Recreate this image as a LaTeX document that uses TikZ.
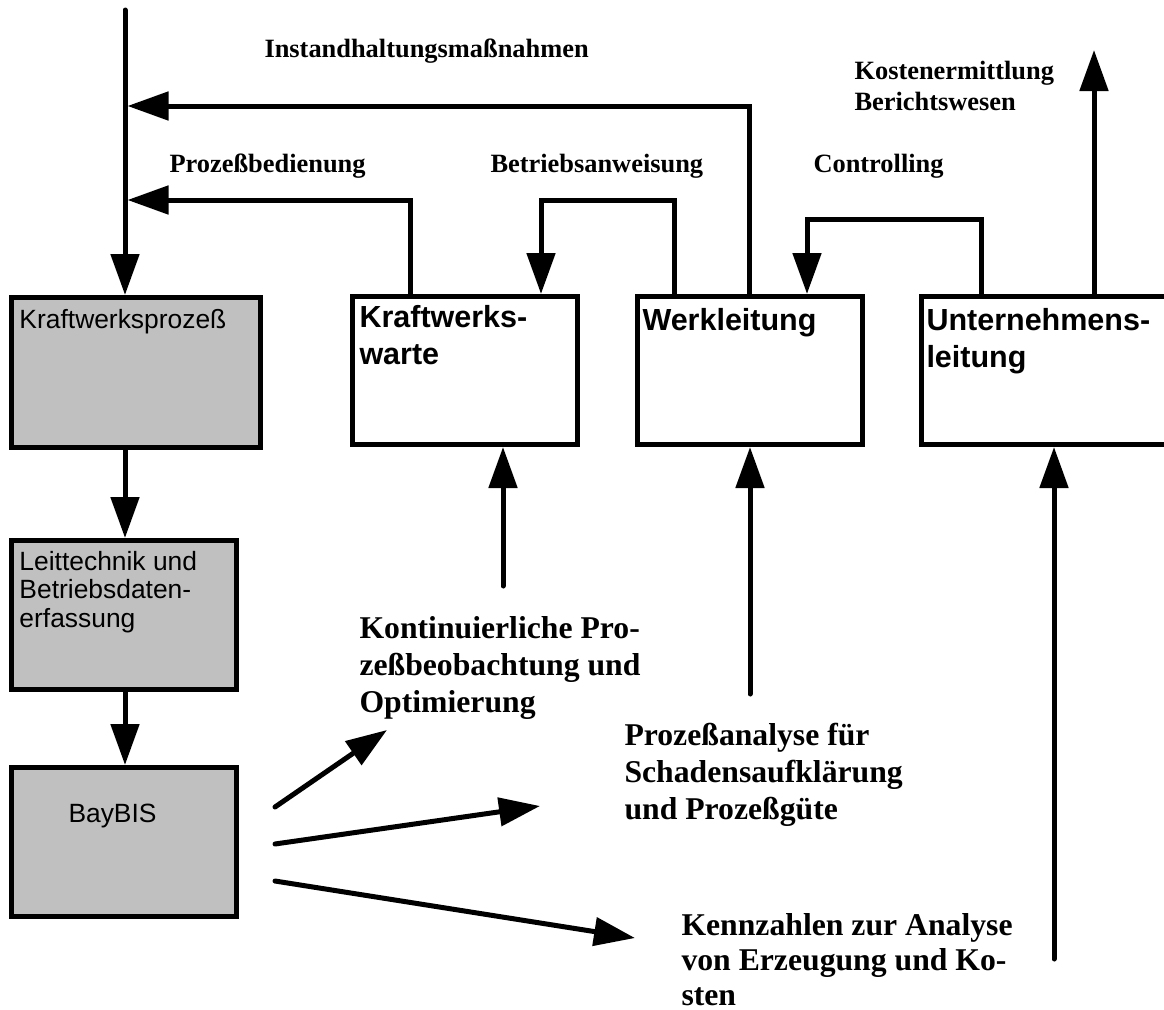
\documentclass[tikz,border=0pt]{standalone}
\usepackage{fontspec}
\setmainfont{Liberation Serif}
\setsansfont{Liberation Sans}
\usetikzlibrary{positioning, arrows.meta}
\definecolor{BoxGrey}{HTML}{C0C0C0}

\begin{document}
\begin{tikzpicture}[
    x=1pt, y=-1pt,
    line width=5pt,
    plainbox/.style={rectangle, draw=black, line width=5pt, minimum width=225pt, minimum height=148pt, inner sep=0pt},
    greybox/.style={plainbox, fill=BoxGrey, minimum height=149pt},
    greytext/.style={inner sep=0pt, align=left, font=\sffamily\fontsize{26.4}{28.5}\selectfont},
    boxtitle/.style={inner sep=0pt, align=left, font=\sffamily\bfseries\fontsize{30.5}{37}\selectfont},
    flowlabel/.style={inner sep=0pt, anchor=base west, font=\bfseries\fontsize{26.4}{31}\selectfont},
    resultlabel/.style={inner sep=0pt, anchor=north west, align=left, font=\bfseries\fontsize{31.7}{37}\selectfont},
    arrow/.style={-{Triangle[length=41pt, width=28pt]}, line width=5pt, line cap=round}
]
    \useasboundingbox (0,0) rectangle (1164,1009);

    % left column: process chain
    \node[greybox, minimum width=249pt, minimum height=150pt] (proc) at (136,372.5) {};
    \node[greybox, below=88pt of proc.south west, anchor=north west] (leit) {};
    \node[greybox, below=73pt of leit.south west, anchor=north west] (bay) {};
    \node[greytext, below right=12pt and 8pt of proc.north west] (proctext) {Kraftwerksprozeß};
    \node[greytext, below right=10.7pt and 8pt of leit.north west] (leittext) {Leittechnik und\\Betriebsdaten-\\erfassung};
    \node[greytext, below right=36.7pt and 57pt of bay.north west] (baytext) {BayBIS};

    % top row: users
    \node[plainbox] (warte) at (465,370.5) {};
    \node[plainbox, right=55pt of warte] (werk) {};
    \node[plainbox, right=54pt of werk, minimum width=260pt, anchor=west] (unter) {};
    \node[boxtitle, below right=8.7pt and 7pt of warte.north west] (wartetext) {Kraftwerks-\\warte};
    \node[boxtitle, below right=11.7pt and 5pt of werk.north west] (werktext) {Werkleitung};
    \node[boxtitle, below right=11.7pt and 5pt of unter.north west] (untertext) {Unternehmens-\\leitung};

    % feedback lines
    \coordinate (top) at (125,10);
    \coordinate (ihbend) at (749,106);
    \coordinate (ihend) at (127.5,106);
    \coordinate (pbbend) at (410,200);
    \coordinate (pbend) at (127.5,200);
    \coordinate (bastart) at (674,200);
    \coordinate (babend) at (541,200);
    \coordinate (costart) at (981,219);
    \coordinate (cobend) at (807,219);
    \coordinate (kotip) at (1094,50);

    \draw[arrow] (top) -- (top |- proc.north);
    \draw[arrow] (ihbend |- werk.north) -- (ihbend) -- (ihend);
    \draw[arrow] (pbbend |- warte.north) -- (pbbend) -- (pbend);
    \draw[arrow] (bastart |- werk.north) -- (bastart) -- (babend) -- (babend |- warte.north);
    \draw[arrow] (costart |- unter.north) -- (costart) -- (cobend) -- (cobend |- werk.north);
    \draw[arrow] (kotip |- unter.north) -- (kotip);
    \draw[arrow] (proc.south -| top) -- (leit.north -| top);
    \draw[arrow] (leit.south -| top) -- (bay.north -| top);

    \node[flowlabel] (ihlabel) at (262,57) {Instandhaltungsmaßnahmen};
    \node[flowlabel] (pblabel) at (167,172) {Prozeßbedienung};
    \node[flowlabel] (balabel) at (488,172) {Betriebsanweisung};
    \node[flowlabel] (colabel) at (811,172) {Controlling};
    \node[flowlabel, anchor=north west, align=left] (kolabel) at (852,58.2) {Kostenermittlung\\Berichtswesen};

    % BayBIS results
    \coordinate (optfoot) at (503,586);
    \coordinate (anafoot) at (750,694);
    \coordinate (kenfoot) at (1054,959);
    \coordinate (b1) at (275,807);
    \coordinate (b2) at (275,844);
    \coordinate (b3) at (275,881);
    \coordinate (t1) at (387,730);
    \coordinate (t2) at (540,806);
    \coordinate (t3) at (635,938);

    \draw[arrow] (optfoot) -- (optfoot |- warte.south);
    \draw[arrow] (anafoot) -- (anafoot |- werk.south);
    \draw[arrow] (kenfoot) -- (kenfoot |- unter.south);
    \foreach \s/\t in {b1/t1, b2/t2, b3/t3}
        \draw[arrow] (\s) -- (\t);

    \node[resultlabel] (optlabel) at (357,613.5) {Kontinuierliche Pro-\\zeßbeobachtung und\\Optimierung};
    \node[resultlabel] (analabel) at (622,721) {Prozeßanalyse für\\Schadensaufklärung\\und Prozeßgüte};
    \node[resultlabel, font=\bfseries\fontsize{31.7}{35}\selectfont] (kenlabel) at (679,910.5) {Kennzahlen zur Analyse\\von Erzeugung und Ko-\\sten};
\end{tikzpicture}
\end{document}
